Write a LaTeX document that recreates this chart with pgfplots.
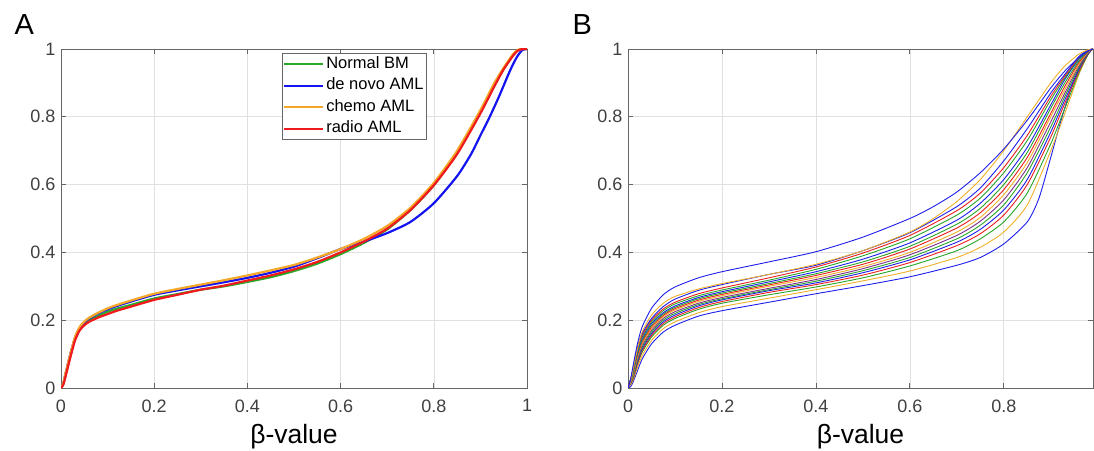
\documentclass[border=0pt]{standalone}
\usepackage{fontspec}
\setmainfont{Liberation Sans}
\usepackage{pgfplots}
\pgfplotsset{compat=1.18}
\definecolor{cgreen}{RGB}{40,170,40}
\definecolor{cblue}{RGB}{20,20,240}
\definecolor{corange}{RGB}{245,168,40}
\definecolor{cred}{RGB}{240,25,30}
\definecolor{bgreen}{RGB}{40,165,40}
\definecolor{bblue}{RGB}{30,30,235}
\definecolor{borange}{RGB}{240,176,40}
\definecolor{bred}{RGB}{235,30,30}
\definecolor{bpurple}{RGB}{126,47,142}
\pgfplotsset{
  matstyle/.style={
    scale only axis, xmin=0, ymin=0, ymax=1,
    grid=major, grid style={color=black!12, line width=0.6pt},
    axis line style={color=black!60, line width=0.9pt},
    tick style={color=black!60, line width=0.7pt},
    tick align=inside, major tick length=5pt,
    ticklabel style={font=\fontsize{18}{20}\selectfont, color=black!75},
    /pgf/number format/assume math mode=true,
    ytick={0,0.2,0.4,0.6,0.8,1}, yticklabels={0,0.2,0.4,0.6,0.8,1},
    xticklabel style={yshift=-8pt},
    yticklabel style={xshift=-2pt},
    xlabel={β-value},
    xlabel style={font=\fontsize{26.5}{28}\selectfont, at={(axis description cs:0.5,0)}, anchor=base, yshift=-55pt},
  }
}
\begin{document}
\begin{tikzpicture}[x=1pt,y=1pt]
\useasboundingbox (0,0) rectangle (1094,450);
\node[anchor=base west, font=\fontsize{29}{31}\selectfont] at (11,415) {A};
\node[anchor=base west, font=\fontsize{29}{31}\selectfont] at (569,415) {B};
\begin{axis}[matstyle, at={(61pt,62pt)}, anchor=south west, width=466pt, height=339pt,
  xmax=1, xtick={0,0.2,0.4,0.6,0.8,1}, xticklabels={0,0.2,0.4,0.6,0.8,1},
  legend cell align=left,
  legend style={at={(axis description cs:0.474,0.988)}, anchor=north west,
    font=\fontsize{16.5}{18}\selectfont, draw=black!60, line width=0.8pt,
    inner xsep=1pt, inner ysep=0pt, row sep=0pt,
    nodes={text height=12pt, text depth=3.5pt, inner ysep=3pt, inner xsep=2pt}},
  legend image code/.code={\draw[#1, line width=2pt] (0pt,0pt) -- (39pt,0pt);},
  every axis plot/.append style={line width=2.2pt, smooth, tension=0.4}]
\addplot[cgreen] coordinates {(0,0) (0.005,0.012) (0.01,0.04) (0.02,0.095) (0.03,0.145) (0.04,0.175) (0.05,0.19) (0.06,0.2) (0.08,0.213) (0.1,0.225) (0.12,0.234) (0.15,0.245) (0.2,0.264) (0.25,0.277) (0.3,0.29) (0.35,0.3) (0.4,0.313) (0.45,0.327) (0.5,0.345) (0.55,0.367) (0.6,0.395) (0.65,0.428) (0.7,0.468) (0.75,0.525) (0.8,0.598) (0.85,0.695) (0.9,0.815) (0.93,0.893) (0.95,0.942) (0.97,0.982) (0.98,0.996) (0.99,1) (1,1)};
\addlegendentry{Normal BM}
\addplot[cblue] coordinates {(0,0) (0.005,0.014) (0.01,0.044) (0.02,0.1) (0.03,0.148) (0.04,0.178) (0.05,0.194) (0.06,0.205) (0.08,0.22) (0.1,0.232) (0.12,0.242) (0.15,0.255) (0.2,0.275) (0.25,0.288) (0.3,0.3) (0.35,0.312) (0.4,0.325) (0.45,0.34) (0.5,0.358) (0.55,0.383) (0.6,0.41) (0.65,0.432) (0.7,0.457) (0.75,0.49) (0.8,0.545) (0.85,0.625) (0.88,0.69) (0.9,0.745) (0.92,0.8) (0.94,0.86) (0.96,0.925) (0.97,0.955) (0.98,0.98) (0.99,0.997) (1,1)};
\addlegendentry{de novo AML}
\addplot[corange] coordinates {(0,0) (0.005,0.015) (0.01,0.045) (0.02,0.1) (0.03,0.15) (0.04,0.18) (0.05,0.196) (0.06,0.207) (0.08,0.222) (0.1,0.235) (0.12,0.245) (0.15,0.258) (0.2,0.278) (0.25,0.292) (0.3,0.305) (0.35,0.318) (0.4,0.332) (0.45,0.347) (0.5,0.363) (0.55,0.385) (0.6,0.41) (0.65,0.44) (0.7,0.478) (0.75,0.532) (0.8,0.605) (0.85,0.7) (0.9,0.82) (0.93,0.9) (0.95,0.945) (0.97,0.985) (0.98,0.997) (0.99,1) (1,1)};
\addlegendentry{chemo AML}
\addplot[cred] coordinates {(0,0) (0.005,0.01) (0.01,0.035) (0.02,0.09) (0.03,0.14) (0.04,0.17) (0.05,0.185) (0.06,0.195) (0.08,0.208) (0.1,0.218) (0.12,0.228) (0.15,0.24) (0.2,0.26) (0.25,0.275) (0.3,0.29) (0.35,0.302) (0.4,0.317) (0.45,0.332) (0.5,0.35) (0.55,0.372) (0.6,0.4) (0.65,0.432) (0.7,0.47) (0.75,0.525) (0.8,0.598) (0.85,0.69) (0.9,0.81) (0.93,0.89) (0.95,0.94) (0.97,0.98) (0.98,0.995) (0.99,1) (1,1)};
\addlegendentry{radio AML}
\end{axis}
\begin{axis}[matstyle, at={(628pt,62pt)}, anchor=south west, width=465pt, height=339pt,
  xmax=0.99, xtick={0,0.2,0.4,0.6,0.8}, xticklabels={0,0.2,0.4,0.6,0.8},
  every axis plot/.append style={line width=0.9pt, smooth, tension=0.4}]
\addplot[bblue] coordinates {(0,0) (0.005,0.003) (0.01,0.015) (0.02,0.05) (0.03,0.085) (0.05,0.13) (0.075,0.165) (0.1,0.185) (0.15,0.212) (0.2,0.228) (0.3,0.253) (0.4,0.278) (0.5,0.302) (0.6,0.328) (0.7,0.362) (0.75,0.385) (0.8,0.425) (0.85,0.49) (0.875,0.56) (0.9,0.68) (0.92,0.78) (0.94,0.87) (0.96,0.94) (0.98,0.99) (0.99,1)};
\addplot[borange] coordinates {(0,0) (0.01,0.02) (0.02,0.06) (0.03,0.095) (0.05,0.14) (0.075,0.175) (0.1,0.195) (0.15,0.222) (0.2,0.24) (0.3,0.265) (0.4,0.29) (0.5,0.316) (0.6,0.345) (0.7,0.385) (0.75,0.415) (0.8,0.46) (0.85,0.54) (0.9,0.7) (0.93,0.81) (0.96,0.925) (0.98,0.985) (0.99,1)};
\addplot[bgreen] coordinates {(0,0) (0.01,0.025) (0.02,0.07) (0.03,0.105) (0.05,0.15) (0.075,0.185) (0.1,0.205) (0.15,0.232) (0.2,0.25) (0.3,0.275) (0.4,0.298) (0.5,0.325) (0.6,0.36) (0.7,0.405) (0.75,0.44) (0.8,0.49) (0.85,0.575) (0.9,0.72) (0.93,0.825) (0.96,0.93) (0.98,0.985) (0.99,1)};
\addplot[bred] coordinates {(0,0) (0.01,0.025) (0.02,0.07) (0.03,0.11) (0.05,0.155) (0.075,0.19) (0.1,0.21) (0.15,0.237) (0.2,0.255) (0.3,0.282) (0.4,0.305) (0.5,0.333) (0.6,0.37) (0.7,0.42) (0.75,0.455) (0.8,0.51) (0.85,0.6) (0.9,0.74) (0.93,0.84) (0.96,0.935) (0.98,0.987) (0.99,1)};
\addplot[bblue] coordinates {(0,0) (0.01,0.03) (0.02,0.075) (0.03,0.115) (0.05,0.16) (0.075,0.195) (0.1,0.215) (0.15,0.242) (0.2,0.26) (0.3,0.287) (0.4,0.31) (0.5,0.34) (0.6,0.378) (0.7,0.43) (0.75,0.468) (0.8,0.525) (0.85,0.615) (0.9,0.755) (0.93,0.85) (0.96,0.94) (0.98,0.988) (0.99,1)};
\addplot[bgreen] coordinates {(0,0) (0.01,0.03) (0.02,0.08) (0.03,0.12) (0.05,0.165) (0.075,0.2) (0.1,0.22) (0.15,0.246) (0.2,0.263) (0.3,0.29) (0.4,0.315) (0.5,0.346) (0.6,0.385) (0.7,0.44) (0.75,0.48) (0.8,0.54) (0.85,0.635) (0.9,0.77) (0.93,0.86) (0.96,0.945) (0.98,0.99) (0.99,1)};
\addplot[bpurple] coordinates {(0,0) (0.01,0.035) (0.02,0.085) (0.03,0.125) (0.05,0.17) (0.075,0.205) (0.1,0.225) (0.15,0.25) (0.2,0.267) (0.3,0.294) (0.4,0.32) (0.5,0.352) (0.6,0.393) (0.7,0.45) (0.75,0.492) (0.8,0.555) (0.85,0.65) (0.9,0.785) (0.93,0.87) (0.96,0.95) (0.98,0.99) (0.99,1)};
\addplot[borange] coordinates {(0,0) (0.01,0.035) (0.02,0.09) (0.03,0.13) (0.05,0.175) (0.075,0.21) (0.1,0.23) (0.15,0.255) (0.2,0.272) (0.3,0.3) (0.4,0.326) (0.5,0.358) (0.6,0.4) (0.7,0.46) (0.75,0.503) (0.8,0.57) (0.85,0.665) (0.9,0.8) (0.93,0.88) (0.96,0.955) (0.98,0.992) (0.99,1)};
\addplot[bred] coordinates {(0,0) (0.01,0.04) (0.02,0.095) (0.03,0.135) (0.05,0.18) (0.075,0.214) (0.1,0.234) (0.15,0.259) (0.2,0.276) (0.3,0.304) (0.4,0.332) (0.5,0.365) (0.6,0.41) (0.7,0.472) (0.75,0.517) (0.8,0.585) (0.85,0.68) (0.9,0.81) (0.93,0.89) (0.96,0.96) (0.98,0.993) (0.99,1)};
\addplot[bgreen] coordinates {(0,0) (0.01,0.04) (0.02,0.1) (0.03,0.14) (0.05,0.185) (0.075,0.218) (0.1,0.238) (0.15,0.263) (0.2,0.28) (0.3,0.308) (0.4,0.337) (0.5,0.372) (0.6,0.418) (0.7,0.483) (0.75,0.53) (0.8,0.6) (0.85,0.695) (0.9,0.825) (0.93,0.9) (0.96,0.965) (0.98,0.994) (0.99,1)};
\addplot[bblue] coordinates {(0,0) (0.01,0.045) (0.02,0.105) (0.03,0.145) (0.05,0.19) (0.075,0.222) (0.1,0.242) (0.15,0.267) (0.2,0.284) (0.3,0.313) (0.4,0.343) (0.5,0.38) (0.6,0.428) (0.7,0.495) (0.75,0.545) (0.8,0.615) (0.85,0.71) (0.9,0.835) (0.93,0.91) (0.96,0.97) (0.98,0.995) (0.99,1)};
\addplot[bgreen] coordinates {(0,0) (0.01,0.045) (0.02,0.11) (0.03,0.15) (0.05,0.195) (0.075,0.228) (0.1,0.248) (0.15,0.272) (0.2,0.289) (0.3,0.318) (0.4,0.35) (0.5,0.39) (0.6,0.44) (0.7,0.51) (0.75,0.56) (0.8,0.635) (0.85,0.73) (0.9,0.85) (0.93,0.915) (0.96,0.972) (0.98,0.996) (0.99,1)};
\addplot[bred] coordinates {(0,0) (0.01,0.05) (0.02,0.115) (0.03,0.155) (0.05,0.2) (0.075,0.233) (0.1,0.253) (0.15,0.278) (0.2,0.295) (0.3,0.325) (0.4,0.357) (0.5,0.398) (0.6,0.45) (0.7,0.523) (0.75,0.575) (0.8,0.65) (0.85,0.745) (0.9,0.86) (0.93,0.92) (0.96,0.975) (0.98,0.996) (0.99,1)};
\addplot[bblue] coordinates {(0,0) (0.01,0.05) (0.02,0.12) (0.03,0.16) (0.05,0.205) (0.075,0.24) (0.1,0.262) (0.15,0.288) (0.2,0.305) (0.3,0.335) (0.4,0.362) (0.5,0.405) (0.6,0.458) (0.7,0.535) (0.75,0.59) (0.8,0.67) (0.85,0.765) (0.9,0.87) (0.93,0.925) (0.96,0.978) (0.98,0.997) (0.99,1)};
\addplot[borange] coordinates {(0,0) (0.005,0.015) (0.01,0.05) (0.02,0.115) (0.03,0.165) (0.05,0.215) (0.075,0.25) (0.1,0.27) (0.15,0.292) (0.2,0.308) (0.3,0.335) (0.4,0.365) (0.5,0.405) (0.6,0.46) (0.65,0.5) (0.7,0.55) (0.75,0.615) (0.8,0.7) (0.85,0.8) (0.9,0.9) (0.93,0.95) (0.96,0.985) (0.98,0.998) (0.99,1)};
\addplot[bblue] coordinates {(0,0) (0.005,0.02) (0.01,0.06) (0.02,0.13) (0.03,0.18) (0.05,0.235) (0.075,0.275) (0.1,0.298) (0.15,0.325) (0.2,0.343) (0.3,0.372) (0.4,0.402) (0.5,0.445) (0.6,0.5) (0.65,0.535) (0.7,0.578) (0.75,0.635) (0.8,0.705) (0.85,0.79) (0.9,0.885) (0.93,0.935) (0.96,0.975) (0.98,0.995) (0.99,1)};
\end{axis}
\end{tikzpicture}
\end{document}
